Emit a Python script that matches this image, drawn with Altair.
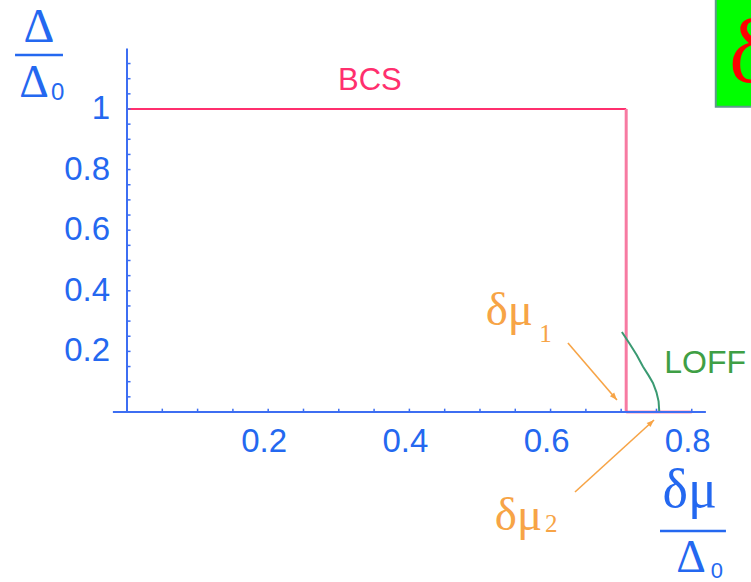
import altair as alt
import pandas as pd

# Gap Δ/Δ0 against the chemical-potential mismatch δμ/Δ0: BCS and LOFF branches
bcs_top_x = [0.0, 0.7071]
bcs_top_y = [1.0, 1.0]
bcs_drop_x = [0.7071, 0.7071]
bcs_drop_y = [1.0, 0.0]
bcs_zero_x = [0.7071, 0.80]
bcs_zero_y = [0.0, 0.0]

loff_x = [0.701, 0.712, 0.722, 0.731, 0.739, 0.745, 0.750, 0.753, 0.754]
loff_y = [0.264, 0.225, 0.188, 0.149, 0.120, 0.096, 0.065, 0.035, 0.0]

x_tick_values = [0.2, 0.4, 0.6, 0.8]
x_tick_labels = ["0.2", "0.4", "0.6", "0.8"]
y_tick_values = [0.2, 0.4, 0.6, 0.8, 1.0]
y_tick_labels = ["0.2", "0.4", "0.6", "0.8", "1"]
x_minor = [0.05, 0.10, 0.15, 0.20, 0.25, 0.30, 0.35, 0.40,
           0.45, 0.50, 0.55, 0.60, 0.65, 0.70, 0.75, 0.80]
y_minor = [0.05, 0.10, 0.15, 0.20, 0.25, 0.30, 0.35, 0.40, 0.45, 0.50,
           0.55, 0.60, 0.65, 0.70, 0.75, 0.80, 0.85, 0.90, 0.95, 1.00,
           1.05, 1.10, 1.15]

# the two critical mismatches pointed at by arrows
arrow1_x = [0.6246, 0.694]
arrow1_y = [0.2277, 0.0396]
arrow2_x = [0.6346, 0.7465]
arrow2_y = [-0.264, -0.0264]

BLUE = "#2468f0"
AXIS_BLUE = "#3d6ef2"
PINK = "#ff2f6e"
PINK_LIGHT = "#f77aa2"
GREEN_TEXT = "#3f9f45"
GREEN_CURVE = "#3a9a72"
ORANGE = "#f7a446"
SANS = "Liberation Sans"
SERIF = "Liberation Serif"

xs = alt.Scale(domain=[-0.1799, 0.8839], nice=False, zero=False)
ys = alt.Scale(domain=[-0.5611, 1.3597], nice=False, zero=False)


def X(field="x"):
    return alt.X(f"{field}:Q", scale=xs, axis=None)


def Y(field="y"):
    return alt.Y(f"{field}:Q", scale=ys, axis=None)


def path(xv, yv, color, width):
    df = pd.DataFrame({"x": xv, "y": yv, "i": range(len(xv))})
    return alt.Chart(df).mark_line(color=color, strokeWidth=width).encode(
        x=X(), y=Y(), order="i:Q")


def segment(x0, x1, y0, y1, color, width):
    df = pd.DataFrame({"x": [x0], "x2": [x1], "y": [y0], "y2": [y1]})
    return alt.Chart(df).mark_rule(color=color, strokeWidth=width).encode(
        x=X(), x2="x2", y=Y(), y2="y2")


def label(txt, x, y, size, color, font=SANS, align="center", baseline="alphabetic"):
    df = pd.DataFrame({"x": [x], "y": [y], "t": [txt]})
    return alt.Chart(df).mark_text(
        font=font, fontSize=size, color=color, align=align, baseline=baseline
    ).encode(x=X(), y=Y(), text="t:N")


def arrow(xv, yv, angle):
    shaft = path(xv, yv, ORANGE, 1.6)
    head_df = pd.DataFrame({"x": [xv[-1]], "y": [yv[-1]]})
    head = alt.Chart(head_df).mark_point(
        shape="M0,0L-0.38,1L0.38,1Z", size=220, filled=True, opacity=1,
        color=ORANGE, angle=angle
    ).encode(x=X(), y=Y())
    return shaft + head


# axes drawn through the data scales: y axis at x = 0, x axis at y = 0
x_axis = segment(-0.02, 0.82, 0, 0, AXIS_BLUE, 2)
y_axis = segment(0, 0, 0, 1.2, AXIS_BLUE, 2)

xt = pd.DataFrame({"x": x_minor})
x_ticks = alt.Chart(xt).mark_rule(color=AXIS_BLUE, strokeWidth=1.5).transform_calculate(
    y="0", y2="0.011").encode(x=X(), y=Y(), y2="y2:Q")
yt = pd.DataFrame({"y": y_minor})
y_ticks = alt.Chart(yt).mark_rule(color=AXIS_BLUE, strokeWidth=1.5).transform_calculate(
    x="0", x2="0.005").encode(x=X(), x2="x2:Q", y=Y())

xl = pd.DataFrame({"x": x_tick_values, "t": x_tick_labels})
x_labels = alt.Chart(xl).mark_text(
    font=SANS, fontSize=33, color=BLUE, baseline="middle", dx=-4
).transform_calculate(y="-0.099").encode(x=X(), y=Y(), text="t:N")
yl = pd.DataFrame({"y": y_tick_values, "t": y_tick_labels})
y_labels = alt.Chart(yl).mark_text(
    font=SANS, fontSize=33, color=BLUE, align="right", baseline="middle"
).transform_calculate(x="-0.024").encode(x=X(), y=Y(), text="t:N")

# BCS and LOFF curves
bcs = (path(bcs_top_x, bcs_top_y, PINK, 2)
       + path(bcs_drop_x, bcs_drop_y, PINK_LIGHT, 3)
       + path(bcs_zero_x, bcs_zero_y, PINK, 2.5))
loff = path(loff_x, loff_y, GREEN_CURVE, 2)

notes = (
    label("BCS", 0.344, 1.092, 31, PINK, baseline="middle")
    + label("LOFF", 0.819, 0.162, 32, GREEN_TEXT, baseline="middle")
    + label("δμ", 0.508, 0.287, 47, ORANGE, font=SERIF, align="left")
    + label("1", 0.584, 0.231, 25, ORANGE, font=SERIF, align="left")
    + label("δμ", 0.521, -0.389, 47, ORANGE, font=SERIF, align="left")
    + label("2", 0.592, -0.396, 25, ORANGE, font=SERIF, align="left")
    + arrow(arrow1_x, arrow1_y, 139)
    + arrow(arrow2_x, arrow2_y, 47)
)

# axis titles written as fractions
titles = (
    label("Δ", -0.1246, 1.221, 48, BLUE, font=SERIF)
    + segment(-0.1586, -0.0907, 1.178, 1.178, BLUE, 2.5)
    + label("Δ", -0.1317, 1.040, 46, BLUE, font=SERIF)
    + label("0", -0.1075, 1.030, 24, BLUE, align="left")
    + label("δμ", 0.797, -0.3135, 54, BLUE, font=SERIF)
    + segment(0.755, 0.8484, -0.3927, -0.3927, BLUE, 2.5)
    + label("Δ", 0.799, -0.528, 46, BLUE, font=SERIF)
    + label("0", 0.827, -0.549, 22, BLUE, align="left")
)

# green tag in the upper right corner
tag_df = pd.DataFrame({"x": [0.834], "x2": [1.0], "y": [1.007], "y2": [1.5]})
tag = alt.Chart(tag_df).mark_rect(
    color="#00ff00", stroke="#5f9a8c", strokeWidth=2
).encode(x=X(), x2="x2", y=Y(), y2="y2") + label(
    "δ", 0.853, 1.089, 90, "#ff0000", font=SERIF, align="left")

chart = alt.layer(
    bcs, loff, x_axis, y_axis, x_ticks, y_ticks, x_labels, y_labels,
    notes, titles, tag
).properties(
    width=751, height=582, autosize="none", padding=0
).configure_view(stroke=None)

chart.save("out.html", embed_options={"renderer": "svg", "actions": False})
